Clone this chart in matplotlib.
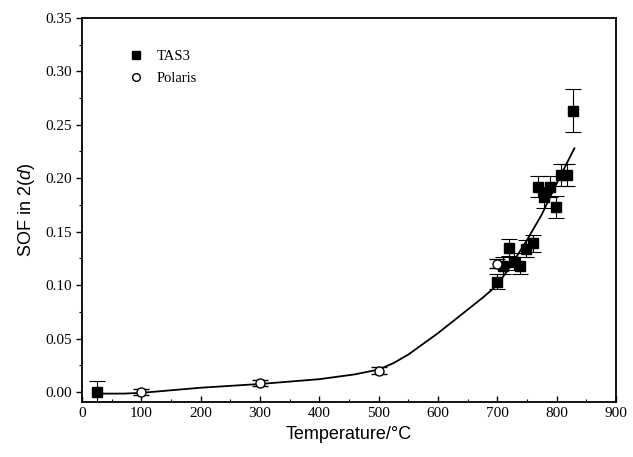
import matplotlib
matplotlib.use('Agg')
import matplotlib.pyplot as plt
import matplotlib.ticker as ticker

# TAS3 data (filled squares)
tas3_t = [25, 700, 710, 720, 729, 739, 748, 760, 769, 779, 789, 799, 808, 818, 828]
tas3_sof = [0.000, 0.103, 0.118, 0.135, 0.122, 0.118, 0.134, 0.139, 0.192, 0.182,
            0.192, 0.173, 0.203, 0.203, 0.263]
tas3_err = [0.010, 0.007, 0.008, 0.008, 0.008, 0.008, 0.008, 0.008, 0.010, 0.010,
            0.010, 0.010, 0.010, 0.010, 0.020]

# Polaris data (open circles)
pol_t = [100, 300, 500, 700]
pol_sof = [0.000, 0.0085, 0.020, 0.120]
pol_err = [0.003, 0.003, 0.003, 0.004]

# fitted curve
fit_t = [25, 70, 100, 200, 300, 400, 460, 500, 525, 550, 575, 600, 625, 650, 675, 700,
         725, 750, 775, 800, 830]
fit_sof = [-0.0015, -0.0015, -0.0008, 0.004, 0.0075, 0.012, 0.0165, 0.021, 0.027, 0.035,
           0.045, 0.055, 0.066, 0.077, 0.088, 0.100, 0.120, 0.142, 0.166, 0.195, 0.228]

plt.rcParams['mathtext.fontset'] = 'custom'
plt.rcParams['mathtext.it'] = 'Liberation Sans:italic'
plt.rcParams['mathtext.rm'] = 'Liberation Sans'

fig = plt.figure(figsize=(6.33, 4.57), dpi=100)
ax = fig.add_axes([0.1295, 0.120, 0.8435, 0.841])

ax.plot(fit_t, fit_sof, color='black', lw=1.3, zorder=2)
ax.errorbar(tas3_t, tas3_sof, yerr=tas3_err, fmt='s', color='black', ms=7,
            ecolor='black', elinewidth=0.8, capsize=6, capthick=0.8, label='TAS3', zorder=3)
ax.errorbar(pol_t, pol_sof, yerr=pol_err, fmt='o', mfc='white', mec='black', mew=1.0, ms=6.5,
            ecolor='black', elinewidth=0.8, capsize=6, capthick=0.8, label='Polaris', zorder=3)

ax.set_xlim(0, 900)
ax.set_ylim(-0.0095, 0.35)
ax.xaxis.set_major_locator(ticker.MultipleLocator(100))
ax.xaxis.set_minor_locator(ticker.MultipleLocator(50))
ax.yaxis.set_major_locator(ticker.MultipleLocator(0.05))
ax.yaxis.set_minor_locator(ticker.MultipleLocator(0.025))
ax.yaxis.set_major_formatter(ticker.FormatStrFormatter('%.2f'))
ax.tick_params(axis='x', which='both', direction='in')
ax.tick_params(axis='y', which='both', direction='out')
ax.tick_params(which='major', length=4, width=1)
ax.tick_params(which='minor', length=2.5, width=0.8)
for lbl in ax.get_xticklabels() + ax.get_yticklabels():
    lbl.set_fontfamily('Liberation Serif')
    lbl.set_fontsize(11)
for s in ax.spines.values():
    s.set_linewidth(1.3)

ax.set_xlabel('Temperature/°C', fontfamily='Liberation Sans', fontsize=13, labelpad=4)
ax.set_ylabel('SOF in 2($\\mathit{d}$)', fontfamily='Liberation Sans', fontsize=13, labelpad=6)

handles, labels = ax.get_legend_handles_labels()
handles = [h[0] for h in handles]
ax.legend(handles, labels, loc='upper left', bbox_to_anchor=(0.06, 0.95), frameon=False,
          prop={'family': 'Liberation Serif', 'size': 10.5}, handletextpad=0.8,
          handlelength=1.2, labelspacing=0.6, markerscale=0.85)

fig.savefig('out.png', dpi=100)
